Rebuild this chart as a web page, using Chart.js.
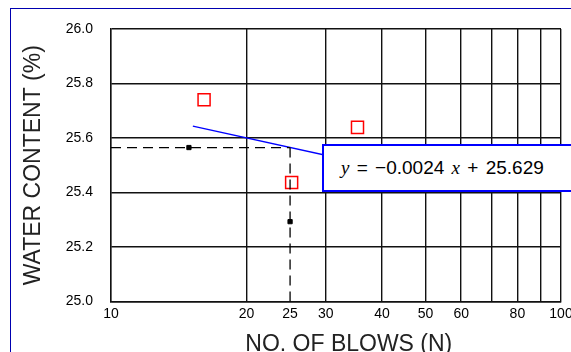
<!DOCTYPE html>
<html>
<head>
<meta charset="utf-8">
<script src="https://cdn.jsdelivr.net/npm/chart.js@4"></script>
<style>
  html, body { margin: 0; padding: 0; background: #fff; }
  #wrap { position: relative; width: 571px; height: 352px; overflow: hidden; }
  #frame { position: absolute; left: 10px; top: 8px; width: 600px; height: 400px;
           border-left: 1px solid #0000b0; border-top: 1px solid #0000b0; }
  #eq { position: absolute; left: 322px; top: 144px; width: 280px; height: 44px;
        border: 2px solid #0000ff; background: #fff;
        font: 19px "Liberation Sans", Arial, sans-serif; color: #000;
        line-height: 44px; padding-left: 17px; box-sizing: content-box; word-spacing: 2px; white-space: nowrap; }
  #eq i { font-family: "Liberation Serif", "Times New Roman", serif; }
  canvas { position: absolute; left: 0; top: 0; }
</style>
</head>
<body>
<div id="wrap">
  <div id="frame"></div>
  <canvas id="chart" width="571" height="352"></canvas>
  <div id="eq"><i>y</i> = −0.0024 <i>x</i> + 25.629</div>
</div>
<script>
// measured points
const blows = [16.1, 25.2, 35.3];
const waterContent = [25.74, 25.437, 25.639];

// fitted line as drawn
const trendX = [15.2, 35.3];
const trendY = [25.644, 25.511];

// dashed guide lines at N = 25
const guideHX = [10, 25];
const guideHY = [25.565, 25.565];
const guideVX = [25, 25];
const guideVY = [25.565, 25.0];
const arrowX = [14.9, 25];
const arrowY = [25.565, 25.293];

const xGrid = [10, 20, 30, 40, 50, 60, 70, 80, 90, 100];
const xLabels = [10, 20, 25, 30, 40, 50, 60, 80, 100];

function pts(xs, ys){ return xs.map((x, i) => ({x, y: ys[i]})); }

const fontTick = {family: "'Liberation Sans', Arial, sans-serif", size: 14};
const fontTitle = {family: "'Liberation Sans', Arial, sans-serif", size: 23, lineHeight: 0.66};

new Chart(document.getElementById("chart"), {
  type: "scatter",
  data: {datasets: [
    {data: pts(guideHX, guideHY), showLine: true, borderColor: "#000", borderWidth: 1.3,
     borderDash: [10, 6], pointRadius: 0},
    {data: pts(guideVX, guideVY), showLine: true, borderColor: "#000", borderWidth: 1.3,
     borderDash: [10, 6], pointRadius: 0},
    {data: pts(arrowX, arrowY), showLine: false, pointStyle: "rect", pointRadius: 3,
     backgroundColor: "#000", borderColor: "#000", borderWidth: 1},
    {data: pts(trendX, trendY), showLine: true, borderColor: "#0000ff", borderWidth: 1.3, pointRadius: 0},
    {data: pts(blows, waterContent), showLine: false, pointStyle: "rect", pointRadius: 8.5,
     backgroundColor: "rgba(255,255,255,0)", borderColor: "#ff0000", borderWidth: 1.5}
  ]},
  options: {
    responsive: false,
    animation: false,
    events: [],
    layout: {padding: {top: 29, right: 9, left: 0, bottom: 0}},
    plugins: {legend: {display: false}, tooltip: {enabled: false}},
    scales: {
      x: {
        type: "logarithmic", min: 10, max: 100,
        afterBuildTicks: s => { s.ticks = [...xGrid, 25].sort((a, b) => a - b).map(v => ({value: v})); },
        afterFit: s => { s.height = 50.5; s.paddingLeft = 0; s.paddingRight = 0; },
        ticks: {color: "#000", font: fontTick, padding: 4, autoSkip: false, maxRotation: 0,
                callback: v => xLabels.includes(v) ? String(v) : ""},
        grid: {color: c => c.tick && c.tick.value === 25 ? "rgba(0,0,0,0)" : "#111", lineWidth: 1.4, drawTicks: false},
        border: {color: "#111", width: 1.4},
        // leading spaces push the centred title right, as in the original
        title: {display: true, text: "    NO. OF BLOWS (N)", color: "#222", font: fontTitle, padding: 0}
      },
      y: {
        min: 25, max: 26,
        afterFit: s => { s.width = 111; },
        ticks: {stepSize: 0.2, color: "#000", font: fontTick, padding: 18,
                callback: v => Number(v).toFixed(1)},
        grid: {color: "#111", lineWidth: 1.4, drawTicks: false},
        border: {color: "#111", width: 1.4},
        title: {display: true, text: "WATER CONTENT (%)", color: "#222", font: fontTitle, padding: {top: 26, bottom: 0}}
      }
    }
  }
});
</script>
</body>
</html>
